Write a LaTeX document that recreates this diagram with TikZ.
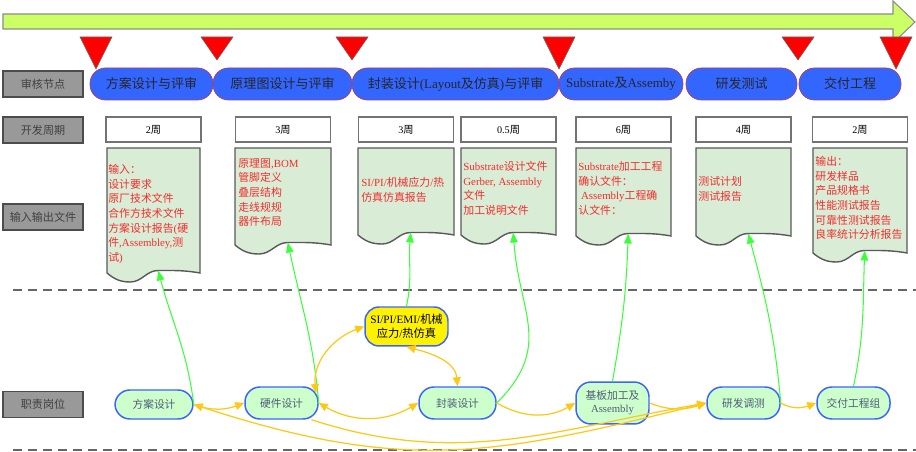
\documentclass[tikz,border=0pt]{standalone}
\usepackage{fontspec}
\setmainfont{Liberation Serif}
\newfontfamily\cjkfont{Noto Sans CJK SC}
% switch to the CJK font for ideographs and fullwidth punctuation
\XeTeXinterchartokenstate=1
\chardef\cjkclass=10
\newcount\cjkcode
\cjkcode="3000
\loop \XeTeXcharclass\cjkcode=\cjkclass \advance\cjkcode by 1 \ifnum\cjkcode<"3040 \repeat
\cjkcode="4E00
\loop \XeTeXcharclass\cjkcode=\cjkclass \advance\cjkcode by 1 \ifnum\cjkcode<"A000 \repeat
\cjkcode="FF00
\loop \XeTeXcharclass\cjkcode=\cjkclass \advance\cjkcode by 1 \ifnum\cjkcode<"FFF0 \repeat
\XeTeXinterchartoks 0 \cjkclass = {\cjkfont}
\XeTeXinterchartoks 4095 \cjkclass = {\cjkfont}
\XeTeXinterchartoks \cjkclass 0 = {\rmfamily}
\XeTeXinterchartoks \cjkclass 4095 = {\rmfamily}
\usetikzlibrary{arrows.meta}

\definecolor{limegreen}{RGB}{204,255,102}
\definecolor{stageblue}{RGB}{51,102,255}
\definecolor{stageedge}{RGB}{170,60,110}
\definecolor{labelgray}{RGB}{153,153,153}
\definecolor{docgreen}{RGB}{216,236,214}
\definecolor{docred}{RGB}{245,45,45}
\definecolor{rolegreen}{RGB}{204,255,204}
\definecolor{roleblue}{RGB}{60,100,255}
\definecolor{roletext}{RGB}{80,90,120}
\definecolor{linkyellow}{RGB}{255,200,20}
\definecolor{linkgreen}{RGB}{60,255,60}

\tikzset{sidebox/.style={draw=black!70, line width=0.8pt, fill=labelgray, minimum width=1.6cm, minimum height=0.52cm, inner sep=0pt, text=black!75, font=\fontsize{6.3}{7.5}\selectfont},
  stage/.style={draw=stageedge, line width=0.4pt, fill=stageblue, rounded corners=0.31cm, minimum height=0.64cm, inner sep=0pt, text=black!85, font=\fontsize{7.4}{9}\selectfont},
  weekbox/.style={draw=black!55, line width=0.6pt, fill=white, minimum width=1.9cm, minimum height=0.5cm, inner sep=0pt, font=\fontsize{5.8}{7}\selectfont},
  docbox/.style={draw=black!65, line width=0.8pt, fill=docgreen},
  doctext/.style={anchor=north west, inner sep=0pt, align=left, text=docred, font=\fontsize{6.2}{8.35}\selectfont},
  role/.style={draw=roleblue, line width=0.85pt, fill=rolegreen, rounded corners=0.3cm, minimum height=0.64cm, inner sep=0pt, align=center, text=roletext, font=\fontsize{6.1}{7.4}\selectfont},
  gate/.style={draw=black!60, line width=0.3pt, fill=red},
  timeline/.style={draw=black!45, line width=0.6pt, fill=limegreen},
  greenlink/.style={draw=linkgreen, line width=0.6pt, -{Triangle[length=2mm,width=1.5mm]}},
  yellowlink/.style={draw=linkyellow, line width=0.7pt, >={Triangle[length=1.8mm,width=1.6mm]}},
  split/.style={draw=black!60, line width=0.85pt, dash pattern=on 1.9mm off 1.1mm}}

\begin{document}
\begin{tikzpicture}[x=0.02cm, y=0.02cm]
    \useasboundingbox (0,0) rectangle (916,-452);

    \draw[timeline] (3,-14) -- (893,-14) -- (893,-1) -- (915,-22) -- (893,-43) -- (893,-29) -- (3,-29) -- cycle;

    \foreach \c/\d in {96/69, 217/60, 352/60, 559/69, 798/60, 896/69}
        \draw[gate] (\c-16,-37) -- (\c+16,-37) -- (\c,-\d) -- cycle;

    \node[sidebox] (lbl_review) at (43,-84) {审核节点};
    \node[sidebox] (lbl_period) at (43,-130) {开发周期};
    \node[sidebox] (lbl_files) at (43,-217) {输入输出文件};
    \node[sidebox] (lbl_roles) at (43,-404.5) {职责岗位};

    \node[stage, minimum width=2.46cm] (rev_plan) at (151.5,-84) {方案设计与评审};
    \node[stage, minimum width=2.78cm] (rev_sch) at (282.5,-84) {原理图设计与评审};
    \node[stage, minimum width=4.14cm] (rev_pkg) at (455.5,-84) {封装设计(Layout及仿真)与评审};
    \node[stage, minimum width=2.48cm] (rev_sub) at (621,-84) {Substrate及Assemby};
    \node[stage, minimum width=2.22cm] (rev_test) at (741.5,-84) {研发测试};
    \node[stage, minimum width=2.04cm] (rev_del) at (850,-84) {交付工程};

    \node[weekbox] (wk_plan) at (153.5,-129.5) {2周};
    \node[weekbox] (wk_sch) at (283,-129.5) {3周};
    \node[weekbox] (wk_pkg) at (406,-129.5) {3周};
    \node[weekbox] (wk_sub) at (508.5,-129.5) {0.5周};
    \node[weekbox] (wk_fab) at (623.5,-129.5) {6周};
    \node[weekbox] (wk_test) at (743.5,-129.5) {4周};
    \node[weekbox] (wk_del) at (860,-129.5) {2周};

    \foreach \l/\r/\b/\n in {107/200/273/plan, 235/331/245/sch, 358/454/235/pkg, 461/556/235/sub, 576/671/236/fab, 696/791/236/test, 813/907/253/del}{
        \pgfmathsetmacro{\crestx}{\l+0.55*(\r-\l)}
        \pgfmathsetmacro{\cresty}{-\b+2.5}
        \pgfmathsetmacro{\troughx}{\l+0.25*(\r-\l)}
        \pgfmathsetmacro{\troughy}{-\b-9}
        \draw[docbox] (\l,-148) -- (\r,-148) -- (\r,-\b)
            to[out=170,in=0] (\crestx,\cresty)
            to[out=180,in=0] (\troughx,\troughy)
            to[out=180,in=-40] (\l,-\b) -- cycle;
        \coordinate (doc_\n) at (\crestx,\cresty);
    }

    \node[doctext] (txt_plan) at (108,-164) {输入：\\设计要求\\原厂技术文件\\合作方技术文件\\方案设计报告(硬\\件,Assembley,测\\试)};
    \node[doctext] (txt_sch) at (238,-158) {原理图,BOM\\管脚定义\\叠层结构\\走线规规\\器件布局};
    \node[doctext] (txt_pkg) at (361,-177) {SI/PI/机械应力/热\\仿真仿真报告};
    \node[doctext] (txt_sub) at (463,-161) {Substrate设计文件\\Gerber, Assembly\\文件\\加工说明文件};
    \node[doctext] (txt_fab) at (578,-161) {Substrate加工工程\\确认文件：\\\ Assembly工程确\\认文件：};
    \node[doctext] (txt_test) at (698,-176) {测试计划\\测试报告};
    \node[doctext] (txt_del) at (815,-156) {输出：\\研发样品\\产品规格书\\性能测试报告\\可靠性测试报告\\良率统计分析报告};

    \draw[split] (13,-290) -- (916,-290);
    \draw[split] (13,-450) -- (916,-450);

    \node[role, minimum width=1.56cm, minimum height=0.58cm] (plan) at (154,-404.5) {方案设计};
    \node[role, minimum width=1.46cm] (hw) at (281.5,-403) {硬件设计};
    \node[role, minimum width=1.54cm] (pkg) at (457.5,-403) {封装设计};
    \node[role, minimum width=1.46cm, minimum height=0.84cm] (fab) at (612.5,-403) {基板加工及\\Assembly};
    \node[role, minimum width=1.46cm] (debug) at (743.5,-403) {研发调测};
    \node[role, minimum width=1.46cm] (deliver) at (853.5,-403) {交付工程组};
    \node[role, fill=yellow, text=black, minimum width=1.66cm, minimum height=0.78cm, rounded corners=0.28cm, font=\fontsize{6.4}{7.9}\selectfont] (sim) at (406.5,-326.5) {SI/PI/EMI/机械\\应力/热仿真};

    \draw[greenlink] (plan.east) to[out=97, in=-75] (doc_plan);
    \draw[greenlink] (hw.east) to[out=95, in=-78] (doc_sch);
    \draw[greenlink] (sim.north) to[out=78, in=-95] (doc_pkg);
    \draw[greenlink] (pkg.east) to[out=45, in=-86, looseness=1.2] (doc_sub);
    \draw[greenlink] (fab.north) to[out=80, in=-92] (doc_fab);
    \draw[greenlink] (debug.east) to[out=95, in=-75] (doc_test);
    \draw[greenlink] (deliver.north) to[out=78, in=-92] (doc_del);

    \draw[yellowlink, ->] (plan.east) to[out=-20, in=-160] (hw.west);
    \draw[yellowlink, <->] ([xshift=-0.06cm, yshift=0.2cm]hw.east) to[out=95, in=200] (sim.west);
    \draw[yellowlink, <->] (sim.south) to[out=-15, in=95] (pkg.north);
    \draw[yellowlink, <->] (hw.east) to[out=-30, in=-150] (pkg.west);
    \draw[yellowlink, ->] (pkg.east) to[out=-30, in=-150] (fab.west);
    \draw[yellowlink, ->] (fab.east) to[out=-22, in=-162] (debug.west);
    \draw[yellowlink, ->] (debug.east) to[out=-30, in=-160] (deliver.west);
    \draw[yellowlink, <->] (plan.east) to[out=-18, in=-166, looseness=1.1] (debug.west);
    \draw[yellowlink, ->] ([xshift=0.6cm]hw.south) to[out=-18, in=-170] (debug.west);

\end{tikzpicture}
\end{document}
